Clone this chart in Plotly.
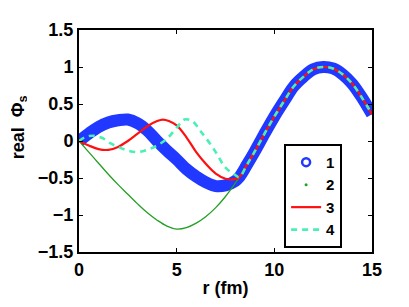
import plotly.graph_objects as go

# shared tail where all four curves coincide
r_tail = [8.6, 9.0, 9.5, 10.0, 10.5, 11.0, 11.5, 12.0, 12.5, 13.0, 13.5, 14.0, 14.5, 15.0]
y_tail = [-0.32, -0.14, 0.10, 0.33, 0.54, 0.74, 0.87, 0.97, 1.0, 0.98, 0.90, 0.77, 0.58, 0.36]

r1 = [0, 0.5, 1.0, 1.5, 2.0, 2.5, 3.0, 3.5, 4.0, 4.5, 5.0, 5.5, 6.0, 6.5, 7.0, 7.5, 8.0, 8.2]
y1 = [0, 0.10, 0.19, 0.25, 0.28, 0.29, 0.24, 0.14, 0.0, -0.13, -0.25, -0.38, -0.48, -0.56, -0.61, -0.60, -0.54, -0.49]

r2 = [0, 0.5, 1.0, 1.5, 2.0, 2.5, 3.0, 3.5, 4.0, 4.5, 5.0, 5.5, 6.0, 6.5, 7.0, 7.5, 8.0, 8.2]
y2 = [0, -0.15, -0.30, -0.45, -0.59, -0.72, -0.85, -0.97, -1.07, -1.15, -1.19, -1.17, -1.11, -1.02, -0.90, -0.75, -0.57, -0.49]

r3 = [0, 0.5, 1.0, 1.5, 2.0, 2.5, 3.0, 3.5, 4.0, 4.3, 4.6, 5.0, 5.5, 6.0, 6.5, 7.0, 7.5, 7.8, 8.2]
y3 = [0, -0.06, -0.11, -0.12, -0.08, 0.0, 0.10, 0.20, 0.27, 0.29, 0.27, 0.21, 0.05, -0.15, -0.31, -0.44, -0.51, -0.52, -0.49]

r4 = [0, 0.4, 0.8, 1.2, 1.6, 2.0, 2.5, 3.0, 3.5, 4.0, 4.5, 5.0, 5.4, 5.8, 6.2, 6.5, 7.0, 7.5, 8.0, 8.2]
y4 = [0, 0.06, 0.07, 0.04, -0.03, -0.08, -0.13, -0.15, -0.12, -0.06, 0.03, 0.18, 0.29, 0.27, 0.14, 0.04, -0.15, -0.36, -0.46, -0.49]

names = ["1", "2", "3", "4"]
x_ticks = [0, 5, 10, 15]
x_labels = ["0", "5", "10", "15"]
y_ticks = [-1.5, -1, -0.5, 0, 0.5, 1, 1.5]
y_labels = ["\u22121.5", "\u22121", "\u22120.5", "0", "0.5", "1", "1.5"]
x_title = "r (fm)"
y_title = "real  Φ<sub>s</sub>"

BLUE = "#2038ff"
GREEN = "#22a022"
RED = "#ff1010"
CYAN = "#48f0b4"
FAMILY = "Liberation Sans, Arial, sans-serif"
FONT = dict(family=FAMILY, size=18, color="black")
LEG_FONT = dict(family=FAMILY, size=15, color="black")


def b(s):
    return "<b>" + s + "</b>"


fig = go.Figure()

fig.add_trace(go.Scatter(x=r1 + r_tail, y=y1 + y_tail, mode="lines", line=dict(color=BLUE, width=12, shape="spline"),
                         showlegend=False, hoverinfo="skip"))
fig.add_trace(go.Scatter(x=r2 + r_tail, y=y2 + y_tail, mode="lines", line=dict(color=GREEN, width=1.3, shape="spline"),
                         showlegend=False, hoverinfo="skip"))
fig.add_trace(go.Scatter(x=r3 + r_tail, y=y3 + y_tail, mode="lines", line=dict(color=RED, width=2.2, shape="spline"),
                         showlegend=False, hoverinfo="skip"))
fig.add_trace(go.Scatter(x=r4 + r_tail, y=y4 + y_tail, mode="lines", line=dict(color=CYAN, width=2.6, dash="6px,5px", shape="spline"),
                         showlegend=False, hoverinfo="skip"))

# legend entries
fig.add_trace(go.Scatter(x=[None], y=[None], mode="markers", name=b(names[0]),
                         marker=dict(symbol="circle-open", size=8, color=BLUE, line=dict(width=2.5, color=BLUE))))
fig.add_trace(go.Scatter(x=[None], y=[None], mode="markers", name=b(names[1]),
                         marker=dict(symbol="circle", size=3, color=GREEN)))
fig.add_trace(go.Scatter(x=[None], y=[None], mode="lines", name=b(names[2]),
                         line=dict(color=RED, width=2.2)))
fig.add_trace(go.Scatter(x=[None], y=[None], mode="lines", name=b(names[3]),
                         line=dict(color=CYAN, width=2.6, dash="6px,5px")))

axis_common = dict(showgrid=False, zeroline=False, showline=True, linecolor="black", linewidth=2,
                   mirror="ticks", ticks="inside", ticklen=4, tickwidth=1, tickcolor="black",
                   tickfont=FONT)

# page body has an 8px margin: figure size/margins compensate so the plot box sits where the reference has it
fig.update_layout(
    width=401, height=299,
    margin=dict(l=71, r=37, t=17, b=38),
    paper_bgcolor="white", plot_bgcolor="white",
    font=FONT,
    xaxis=dict(range=[0, 15], tickvals=x_ticks, ticktext=[b(s) for s in x_labels],
               title=dict(text=b(x_title), font=FONT, standoff=3), **axis_common),
    yaxis=dict(range=[-1.5, 1.5], tickvals=y_ticks, ticktext=[b(s) for s in y_labels], **axis_common),
    legend=dict(x=0.70, y=0.487, xanchor="left", yanchor="top", bordercolor="black", borderwidth=2,
                bgcolor="white", font=LEG_FONT, itemwidth=30, entrywidth=3, entrywidthmode="pixels"),
    annotations=[dict(text=b(y_title), textangle=-90, xref="paper", yref="paper", height=16,
                      x=-0.206, y=0.56, xanchor="center", yanchor="middle", showarrow=False, font=FONT)],
    showlegend=True,
)

fig.write_html("out.html")
